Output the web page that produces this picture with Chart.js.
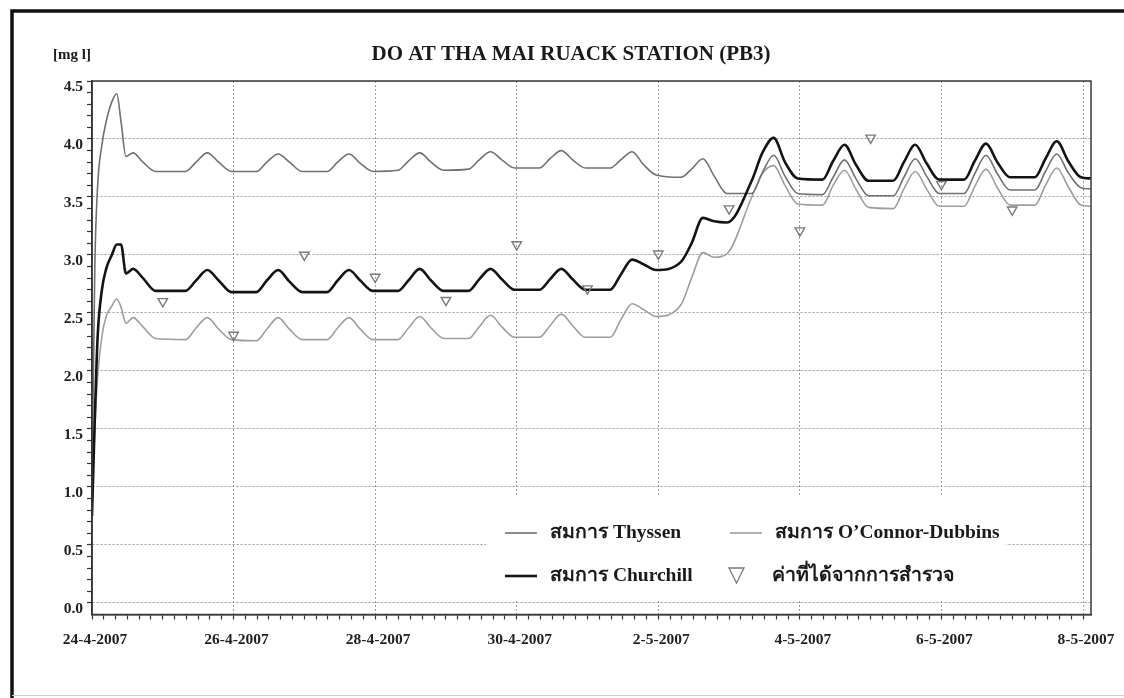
<!DOCTYPE html>
<html><head><meta charset="utf-8">
<script src="https://cdn.jsdelivr.net/npm/chart.js@4.4.0/dist/chart.umd.min.js"></script>
<style>html,body{margin:0;padding:0;background:#fff;}canvas{display:block;}</style>
</head><body>
<canvas id="c" width="1124" height="698"></canvas>
<script>
const chartTitle = 'DO AT THA MAI RUACK STATION (PB3)';
const yUnit = '[mg l]';
const xTickLabels = ['24-4-2007','26-4-2007','28-4-2007','30-4-2007','2-5-2007','4-5-2007','6-5-2007','8-5-2007'];
const seriesNames = ['สมการ Thyssen', 'สมการ O’Connor-Dubbins', 'สมการ Churchill', 'ค่าที่ได้จากการสำรวจ'];

// time in days after 24-4-2007 00:00
const knotDays = [0, 0.04, 0.08, 0.14, 0.2, 0.28, 0.35, 0.41, 0.48, 0.58, 0.72, 0.9,
  1.32, 1.47, 1.63, 1.79, 1.97,
  2.32, 2.47, 2.63, 2.79, 2.97,
  3.32, 3.47, 3.63, 3.79, 3.97,
  4.32, 4.47, 4.63, 4.79, 4.97,
  5.32, 5.47, 5.63, 5.79, 5.97,
  6.32, 6.47, 6.63, 6.79, 6.97,
  7.32, 7.47, 7.63, 7.79, 7.97,
  8.32, 8.47, 8.63, 8.79, 8.97,
  9.32, 9.47, 9.63, 9.79, 9.97,
  10.32, 10.47, 10.63, 10.79, 10.97,
  11.32, 11.47, 11.63, 11.79, 11.97,
  12.32, 12.47, 12.63, 12.79, 12.97,
  13.32, 13.47, 13.63, 13.79, 13.97,
  14.11];

const thyssen = [1.0, 2.9, 3.6, 3.95, 4.15, 4.32, 4.39, 4.15, 3.85, 3.88, 3.8, 3.72,
  3.72, 3.80, 3.88, 3.80, 3.72,
  3.72, 3.80, 3.87, 3.80, 3.72,
  3.72, 3.80, 3.87, 3.79, 3.72,
  3.73, 3.81, 3.88, 3.80, 3.73,
  3.74, 3.82, 3.89, 3.82, 3.75,
  3.75, 3.83, 3.90, 3.82, 3.75,
  3.75, 3.82, 3.89, 3.78, 3.69,
  3.67, 3.74, 3.83, 3.68, 3.53,
  3.53, 3.71, 3.86, 3.68, 3.53,
  3.52, 3.67, 3.82, 3.66, 3.51,
  3.51, 3.67, 3.83, 3.68, 3.53,
  3.53, 3.70, 3.86, 3.70, 3.56,
  3.56, 3.72, 3.87, 3.71, 3.58,
  3.57];

const oconnor = [0.9, 1.5, 1.95, 2.3, 2.47, 2.56, 2.62, 2.55, 2.41, 2.46, 2.38, 2.28,
  2.27, 2.37, 2.46, 2.36, 2.27,
  2.26, 2.36, 2.46, 2.36, 2.27,
  2.27, 2.37, 2.46, 2.36, 2.27,
  2.27, 2.37, 2.47, 2.37, 2.28,
  2.28, 2.38, 2.48, 2.38, 2.29,
  2.29, 2.39, 2.49, 2.39, 2.29,
  2.29, 2.44, 2.58, 2.53, 2.47,
  2.57, 2.80, 3.02, 2.98, 3.01,
  3.50, 3.70, 3.77, 3.60, 3.44,
  3.43, 3.60, 3.73, 3.57, 3.41,
  3.40, 3.57, 3.72, 3.57, 3.42,
  3.42, 3.59, 3.74, 3.58, 3.43,
  3.43, 3.60, 3.75, 3.59, 3.43,
  3.42];

const churchill = [0.75, 1.6, 2.3, 2.7, 2.88, 3.0, 3.09, 3.09, 2.84, 2.88, 2.8, 2.69,
  2.69, 2.78, 2.87, 2.78, 2.68,
  2.68, 2.78, 2.87, 2.77, 2.68,
  2.68, 2.78, 2.87, 2.78, 2.69,
  2.69, 2.78, 2.88, 2.78, 2.69,
  2.69, 2.79, 2.88, 2.79, 2.70,
  2.70, 2.79, 2.88, 2.79, 2.70,
  2.70, 2.83, 2.96, 2.92, 2.87,
  2.94, 3.10, 3.32, 3.29, 3.28,
  3.64, 3.88, 4.01, 3.80, 3.66,
  3.65, 3.81, 3.95, 3.78, 3.64,
  3.64, 3.80, 3.95, 3.79, 3.65,
  3.65, 3.81, 3.96, 3.80, 3.67,
  3.67, 3.83, 3.98, 3.81, 3.67,
  3.66];

const obsDays = [1, 2, 3, 4, 5, 6, 7, 8, 9, 10, 11, 12, 13];
const observed = [2.60, 2.31, 3.00, 2.81, 2.61, 3.09, 2.71, 3.01, 3.40, 3.21, 4.01, 3.61, 3.39];

const colThyssen = '#707070';
const colOconnor = '#9e9e9e';
const colChurchill = '#141414';
const colObs = '#7a7a7a';
const serif = '"Liberation Serif", "Times New Roman", serif';

function pairs(xs, ys) { return ys.map((y, i) => ({x: xs[i], y: y})); }

Chart.defaults.font.family = serif;
Chart.defaults.color = '#222';

const decor = {
  id: 'decor',
  beforeDraw(chart) {
    const ctx = chart.ctx;
    ctx.save();
    ctx.fillStyle = '#fff';
    ctx.fillRect(0, 0, chart.width, chart.height);
    ctx.restore();
  },
  beforeDatasetsDraw(chart) {
    const ctx = chart.ctx;
    ctx.save();
    ctx.fillStyle = '#fff';
    ctx.fillRect(486, 497, 520, 102);
    ctx.restore();
  },
  afterDraw(chart) {
    const ctx = chart.ctx;
    const a = chart.chartArea;
    ctx.save();
    // plot frame
    ctx.strokeStyle = '#3a3a3a';
    ctx.lineWidth = 1.5;
    ctx.strokeRect(a.left, a.top, a.right - a.left, a.bottom - a.top);
    // outer frame
    ctx.strokeStyle = '#111';
    ctx.lineWidth = 3.5;
    ctx.beginPath();
    ctx.moveTo(12, 698);
    ctx.lineTo(12, 11);
    ctx.lineTo(1124, 11);
    ctx.stroke();
    ctx.strokeStyle = '#cfcfcf';
    ctx.lineWidth = 1;
    ctx.beginPath();
    ctx.moveTo(12, 695.5);
    ctx.lineTo(1124, 695.5);
    ctx.stroke();
    // title & unit
    ctx.fillStyle = '#1a1a1a';
    ctx.textBaseline = 'middle';
    ctx.textAlign = 'center';
    ctx.font = 'bold 21px ' + serif;
    ctx.fillText(chartTitle, 571, 55);
    ctx.font = 'bold 15px ' + serif;
    ctx.fillText(yUnit, 72, 55);
    // legend
    const ds = chart.data.datasets;
    ctx.textAlign = 'left';
    ctx.font = 'bold 19.5px ' + serif;
    const rows = [533, 576];
    const entries = [
      {ds: ds[0], x: 505, y: rows[0]},
      {ds: ds[1], x: 730, y: rows[0]},
      {ds: ds[2], x: 505, y: rows[1]},
      {ds: ds[3], x: 729, y: rows[1]}
    ];
    entries.forEach(e => {
      if (e.ds.showLine === false) {
        ctx.strokeStyle = e.ds.borderColor;
        ctx.lineWidth = 1.3;
        ctx.beginPath();
        ctx.moveTo(e.x, e.y - 8);
        ctx.lineTo(e.x + 15, e.y - 8);
        ctx.lineTo(e.x + 7.5, e.y + 7);
        ctx.closePath();
        ctx.stroke();
        ctx.fillStyle = '#1a1a1a';
        ctx.fillText(e.ds.label, e.x + 43, e.y);
      } else {
        ctx.strokeStyle = e.ds.borderColor;
        ctx.lineWidth = e.ds.borderWidth;
        ctx.beginPath();
        ctx.moveTo(e.x, e.y);
        ctx.lineTo(e.x + 32, e.y);
        ctx.stroke();
        ctx.fillStyle = '#1a1a1a';
        ctx.fillText(e.ds.label, e.x + 45, e.y);
      }
    });
    ctx.restore();
  }
};

const gridDash = [2, 2];

new Chart(document.getElementById('c'), {
  type: 'line',
  data: {
    datasets: [
      {label: seriesNames[0], data: pairs(knotDays, thyssen), borderColor: colThyssen, borderWidth: 1.6,
       pointRadius: 0, cubicInterpolationMode: 'monotone', order: 2},
      {label: seriesNames[1], data: pairs(knotDays, oconnor), borderColor: colOconnor, borderWidth: 1.6,
       pointRadius: 0, cubicInterpolationMode: 'monotone', order: 3},
      {label: seriesNames[2], data: pairs(knotDays, churchill), borderColor: colChurchill, borderWidth: 2.6,
       pointRadius: 0, cubicInterpolationMode: 'monotone', order: 1},
      {label: seriesNames[3], data: pairs(obsDays, observed), borderColor: colObs, backgroundColor: 'rgba(0,0,0,0)',
       showLine: false, pointStyle: 'triangle', rotation: 180, pointRadius: 5.5, pointBorderWidth: 1.4, order: 0}
    ]
  },
  options: {
    responsive: false,
    animation: false,
    devicePixelRatio: 1,
    layout: {padding: {left: 0, right: 33, top: 81, bottom: 0}},
    plugins: {legend: {display: false}, title: {display: false}, tooltip: {enabled: false}},
    scales: {
      x: {
        type: 'linear', min: 0, max: 14.113,
        afterBuildTicks(scale) {
          const t = [];
          for (let i = 0; i <= 84; i++) t.push({value: i / 6});
          scale.ticks = t;
        },
        afterFit(scale) { scale.height = 83.5; scale.paddingLeft = 0; scale.paddingRight = 0; },
        ticks: {
          autoSkip: false, maxRotation: 0, minRotation: 0, padding: 11, labelOffset: 3,
          font: {size: 15.5, weight: 'bold', family: serif}, color: '#222',
          callback: (v, i) => (i % 12 === 0 ? xTickLabels[i / 12] : '')
        },
        grid: {
          color: (c) => (c.index % 12 === 0 ? '#9a9a9a' : 'rgba(0,0,0,0)'),
          lineWidth: 1, tickLength: 5, tickColor: '#333', tickWidth: 1.2
        },
        border: {display: true, color: '#222', width: 1.5, dash: gridDash}
      },
      y: {
        type: 'linear', min: -0.1, max: 4.5,
        afterBuildTicks(scale) {
          const t = [];
          for (let i = 0; i <= 45; i++) t.push({value: i / 10});
          scale.ticks = t;
        },
        afterFit(scale) { scale.width = 92; scale.paddingTop = 0; scale.paddingBottom = 0; },
        ticks: {
          autoSkip: false, padding: 4, labelOffset: 6,
          font: {size: 15.5, weight: 'bold', family: serif}, color: '#222',
          callback: (v, i) => (i % 5 === 0 ? (i / 10).toFixed(1) : '')
        },
        grid: {
          color: (c) => (c.index % 5 === 0 ? '#9a9a9a' : 'rgba(0,0,0,0)'),
          lineWidth: 1, tickLength: 5, tickColor: '#333', tickWidth: 1.2
        },
        border: {display: true, color: '#222', width: 1.5, dash: gridDash}
      }
    }
  },
  plugins: [decor]
});
</script>
</body></html>
